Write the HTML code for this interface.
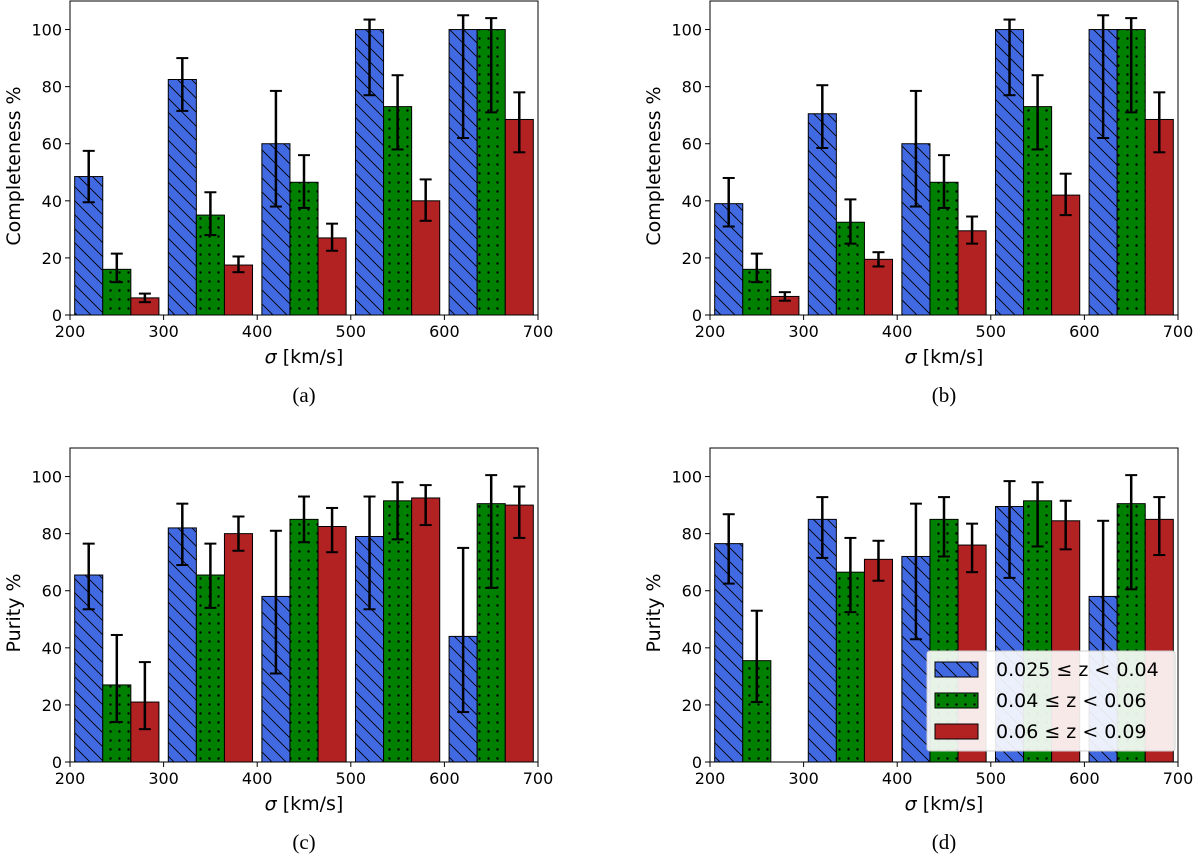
<!DOCTYPE html>
<html><head><meta charset="utf-8"><style>
html,body{margin:0;padding:0;background:#fff;}
svg{display:block;font-family:"DejaVu Sans","Liberation Sans",sans-serif;}
.cap{font-family:"Liberation Serif",serif;font-size:21px;}
</style></head><body>
<svg id="fig" width="1200" height="855" viewBox="0 0 1200 855" xmlns="http://www.w3.org/2000/svg">
<defs>
<pattern id="hatch" patternUnits="userSpaceOnUse" width="14" height="14">
<rect width="14" height="14" fill="#4169e1"/>
<path d="M0,0 L14,14 M-7,7 L7,21 M7,-7 L21,7" stroke="#000" stroke-width="0.9"/>
</pattern>
<pattern id="dots" patternUnits="userSpaceOnUse" width="9" height="9">
<rect width="9" height="9" fill="#008000"/>
<circle cx="2.5" cy="2.5" r="1.2" fill="#000"/>
</pattern>
</defs>
</svg>
<script>
const categories = [200, 300, 400, 500, 600];
const xTicks = [200, 300, 400, 500, 600, 700];
const yTicks = [0, 20, 40, 60, 80, 100];
const seriesLabels = ["0.025 ≤ z < 0.04", "0.04 ≤ z < 0.06", "0.06 ≤ z < 0.09"];
// panel (a)
const aBlue = [48.5, 82.5, 60, 100, 100];
const aBlueLo = [39.5, 71.5, 38, 77, 62];
const aBlueHi = [57.5, 90, 78.5, 103.5, 105];
const aGreen = [16, 35, 46.5, 73, 100];
const aGreenLo = [11.5, 28, 37.5, 58, 71];
const aGreenHi = [21.5, 43, 56, 84, 104];
const aRed = [6, 17.5, 27, 40, 68.5];
const aRedLo = [4.5, 15, 22.5, 33, 57];
const aRedHi = [7.5, 20.5, 32, 47.5, 78];
// panel (b)
const bBlue = [39, 70.5, 60, 100, 100];
const bBlueLo = [31, 58.5, 38, 77, 62];
const bBlueHi = [48, 80.5, 78.5, 103.5, 105];
const bGreen = [16, 32.5, 46.5, 73, 100];
const bGreenLo = [11.5, 25, 37.5, 58, 71];
const bGreenHi = [21.5, 40.5, 56, 84, 104];
const bRed = [6.5, 19.5, 29.5, 42, 68.5];
const bRedLo = [5, 17, 25, 35, 57];
const bRedHi = [8, 22, 34.5, 49.5, 78];
// panel (c)
const cBlue = [65.5, 82, 58, 79, 44];
const cBlueLo = [53.5, 69, 31, 53.5, 17.5];
const cBlueHi = [76.5, 90.5, 81, 93, 75];
const cGreen = [27, 65.5, 85, 91.5, 90.5];
const cGreenLo = [14, 54, 77, 78, 61];
const cGreenHi = [44.5, 76.5, 93, 98, 100.5];
const cRed = [21, 80, 82.5, 92.5, 90];
const cRedLo = [11.5, 74, 73.5, 83, 78.5];
const cRedHi = [35, 86, 89, 97, 96.5];
// panel (d)
const dBlue = [76.5, 85, 72, 89.5, 58];
const dBlueLo = [62.5, 71.5, 43, 64.5, 32];
const dBlueHi = [86.8, 92.8, 90.5, 98.4, 84.5];
const dGreen = [35.5, 66.5, 85, 91.5, 90.5];
const dGreenLo = [21, 52.5, 72, 75.5, 60.5];
const dGreenHi = [53, 78.5, 92.8, 98, 100.5];
const dRed = [null, 71, 76, 84.5, 85];
const dRedLo = [null, 63.5, 66.5, 74.5, 72.5];
const dRedHi = [null, 77.5, 83.5, 91.5, 92.8];

const NS = "http://www.w3.org/2000/svg";
const svg = document.getElementById("fig");
function mk(tag, attrs, parent, text) {
  const e = document.createElementNS(NS, tag);
  for (const k in attrs) e.setAttribute(k, attrs[k]);
  if (text !== undefined) e.textContent = text;
  (parent || svg).appendChild(e);
  return e;
}
const fills = ["url(#hatch)", "url(#dots)", "#b22222"];
const snames = ["blue", "green", "red"];

function panel(key, left, top, bottom, ylabel, cap, series) {
  const right = left + 468;
  const g = mk("g", {});
  
  
  const X = v => left + (v - 200) / 500 * (right - left);
  const Y = v => bottom - v / 110 * (bottom - top);
  series.forEach((s, si) => {
    s.vals.forEach((v, i) => {
      if (v === null) return;
      const x0 = X(categories[i] + 5 + si * 30), x1 = X(categories[i] + 35 + si * 30);
      const r = mk("rect", {x: x0, y: Y(v), width: x1 - x0, height: Y(0) - Y(v), fill: fills[si], stroke: "#000", "stroke-width": 1}, g);
      
      
    });
  });
  series.forEach((s, si) => {
    s.vals.forEach((v, i) => {
      if (v === null) return;
      const xc = X(categories[i] + 20 + si * 30);
      const eg = mk("g", {stroke: "#000", "stroke-width": 2.5}, g);
      
      
      mk("line", {x1: xc, x2: xc, y1: Y(s.lo[i]), y2: Y(s.hi[i])}, eg);
      mk("line", {x1: xc - 6, x2: xc + 6, y1: Y(s.lo[i]), y2: Y(s.lo[i]), "stroke-width": 2}, eg);
      mk("line", {x1: xc - 6, x2: xc + 6, y1: Y(s.hi[i]), y2: Y(s.hi[i]), "stroke-width": 2}, eg);
    });
  });
  const fr = mk("rect", {x: left, y: top, width: right - left, height: bottom - top, fill: "none", stroke: "#000", "stroke-width": 1}, g);
  
  
  xTicks.forEach(t => {
    mk("line", {x1: X(t), x2: X(t), y1: bottom, y2: bottom + 5, stroke: "#000"}, g);
    const tl = mk("text", {x: X(t), y: bottom + 22, "font-size": 16, "text-anchor": "middle"}, g, String(t));
    
    
  });
  yTicks.forEach(t => {
    mk("line", {x1: left - 5, x2: left, y1: Y(t), y2: Y(t), stroke: "#000"}, g);
    const tl = mk("text", {x: left - 8, y: Y(t) + 6, "font-size": 16, "text-anchor": "end"}, g, String(t));
    
    
  });
  const xl = mk("text", {x: (left + right) / 2, y: bottom + 48, "font-size": 19, "text-anchor": "middle"}, g);
  
  
  mk("tspan", {"font-style": "italic"}, xl, "σ");
  mk("tspan", {}, xl, " [km/s]");
  const yl = mk("text", {x: 0, y: 0, "font-size": 19, "text-anchor": "middle", transform: `translate(${left - 50},${(top + bottom) / 2 + 8}) rotate(-90)`}, g, ylabel);
  
  
  const c = mk("text", {x: (left + right) / 2, y: bottom + 87, "text-anchor": "middle", class: "cap"}, g, cap);
  
  
}
panel("a", 70, 1, 315, "Completeness %", "(a)", [
  {vals: aBlue, lo: aBlueLo, hi: aBlueHi}, {vals: aGreen, lo: aGreenLo, hi: aGreenHi}, {vals: aRed, lo: aRedLo, hi: aRedHi}]);
panel("b", 710, 1, 315, "Completeness %", "(b)", [
  {vals: bBlue, lo: bBlueLo, hi: bBlueHi}, {vals: bGreen, lo: bGreenLo, hi: bGreenHi}, {vals: bRed, lo: bRedLo, hi: bRedHi}]);
panel("c", 70, 448, 762, "Purity %", "(c)", [
  {vals: cBlue, lo: cBlueLo, hi: cBlueHi}, {vals: cGreen, lo: cGreenLo, hi: cGreenHi}, {vals: cRed, lo: cRedLo, hi: cRedHi}]);
panel("d", 710, 448, 762, "Purity %", "(d)", [
  {vals: dBlue, lo: dBlueLo, hi: dBlueHi}, {vals: dGreen, lo: dGreenLo, hi: dGreenHi}, {vals: dRed, lo: dRedLo, hi: dRedHi}]);

// legend
const lg = mk("g", {});


mk("rect", {x: 927, y: 651, width: 248, height: 100, rx: 3, fill: "#fff", "fill-opacity": 0.9, stroke: "#ccc"}, lg);
seriesLabels.forEach((s, i) => {
  const y = 669 + i * 31;
  const e = mk("g", {}, lg);
  
  
  mk("rect", {x: 935, y: y - 7, width: 43, height: 15, fill: fills[i], stroke: "#000"}, e);
  mk("text", {x: 996, y: y + 7, "font-size": 19}, e, s);
});
</script>
</body></html>
